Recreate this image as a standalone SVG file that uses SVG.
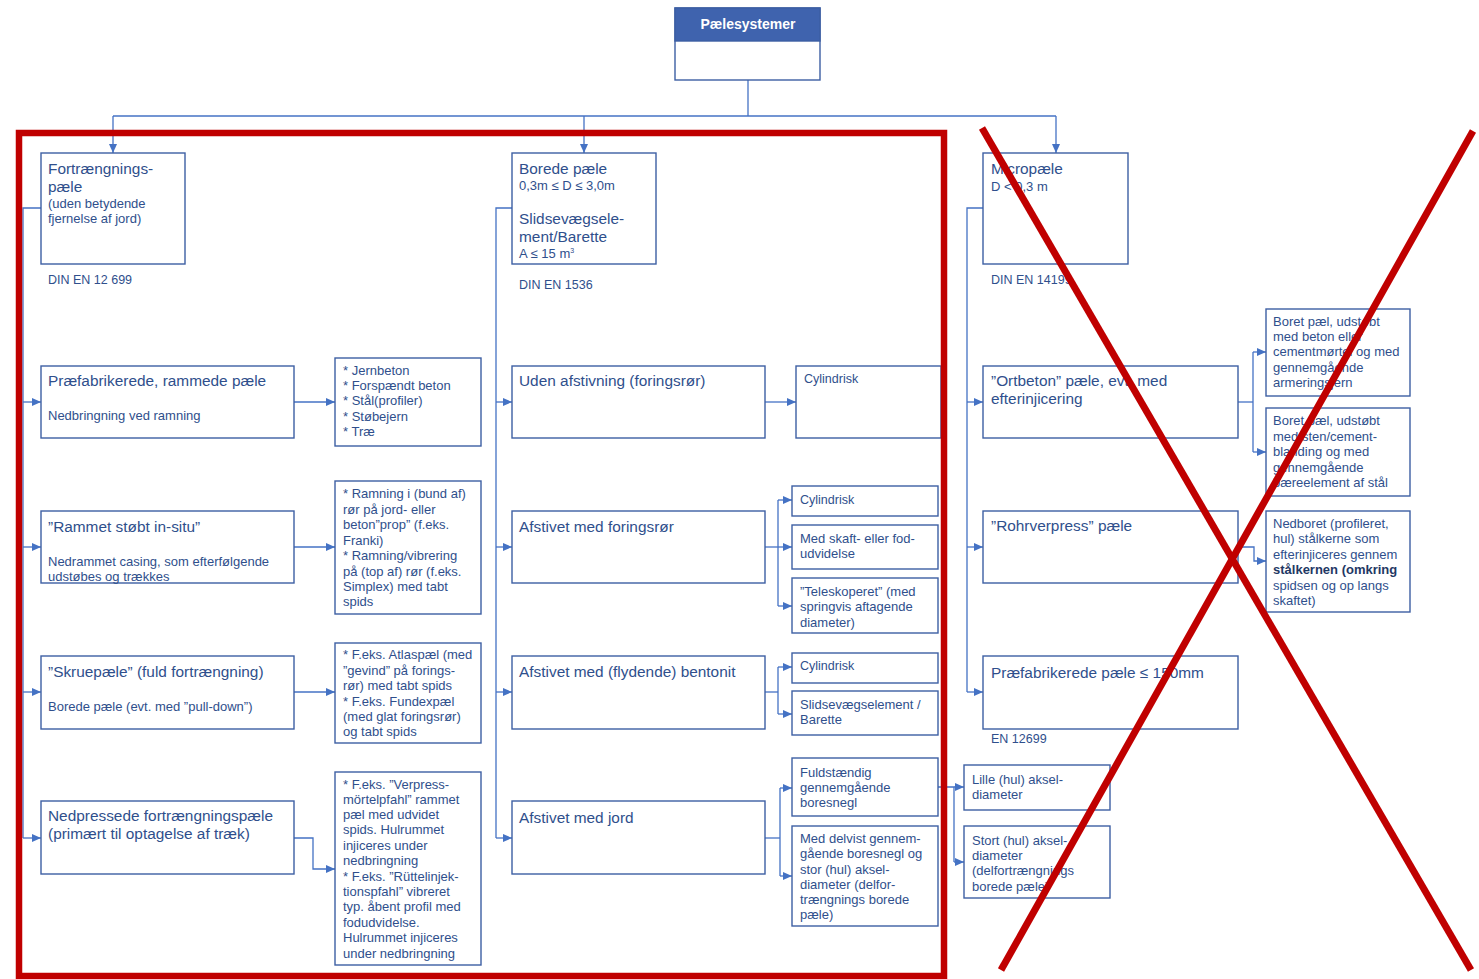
<svg xmlns="http://www.w3.org/2000/svg" width="1479" height="979" viewBox="0 0 1479 979">
<style>
text{font-family:"Liberation Sans",Arial,sans-serif;fill:#2F4F8C}
.t{font-size:15.4px}
.s{font-size:13px}
.d{font-size:12.5px}
.b{fill:#fff;stroke:#3D5FA3;stroke-width:1.4}
.c{fill:none;stroke:#4472C4;stroke-width:1.3}
.x{fill:none;stroke:#C00000;stroke-width:6.5}
</style>
<defs>
<marker id="ah" markerWidth="9" markerHeight="8" refX="9" refY="4" orient="auto" markerUnits="userSpaceOnUse"><path d="M0,0 L9,4 L0,8 z" fill="#4472C4"/></marker>
</defs>
<rect width="1479" height="979" fill="#fff"/>

<g id="connectors">
<path class="c" d="M748,80 V116"/>
<path class="c" d="M113,116 H1056"/>
<path class="c" d="M113,116 V153" marker-end="url(#ah)"/>
<path class="c" d="M584,116 V153" marker-end="url(#ah)"/>
<path class="c" d="M1056,116 V153" marker-end="url(#ah)"/>
<path class="c" d="M41,208 H23 V838"/>
<path class="c" d="M23,402 H41" marker-end="url(#ah)"/>
<path class="c" d="M23,547 H41" marker-end="url(#ah)"/>
<path class="c" d="M23,692 H41" marker-end="url(#ah)"/>
<path class="c" d="M23,838 H41" marker-end="url(#ah)"/>
<path class="c" d="M294,402 H335" marker-end="url(#ah)"/>
<path class="c" d="M294,547 H335" marker-end="url(#ah)"/>
<path class="c" d="M294,692 H335" marker-end="url(#ah)"/>
<path class="c" d="M294,838 H313 V869 H335" marker-end="url(#ah)"/>
<path class="c" d="M512,208 H496 V838"/>
<path class="c" d="M496,402 H512" marker-end="url(#ah)"/>
<path class="c" d="M496,547 H512" marker-end="url(#ah)"/>
<path class="c" d="M496,692 H512" marker-end="url(#ah)"/>
<path class="c" d="M496,838 H512" marker-end="url(#ah)"/>
<path class="c" d="M765,402 H796" marker-end="url(#ah)"/>
<path class="c" d="M765,547 H778"/>
<path class="c" d="M778,500 V606"/>
<path class="c" d="M778,500 H792" marker-end="url(#ah)"/>
<path class="c" d="M778,547 H792" marker-end="url(#ah)"/>
<path class="c" d="M778,606 H792" marker-end="url(#ah)"/>
<path class="c" d="M765,692 H778"/>
<path class="c" d="M778,667 V714"/>
<path class="c" d="M778,667 H792" marker-end="url(#ah)"/>
<path class="c" d="M778,714 H792" marker-end="url(#ah)"/>
<path class="c" d="M765,838 H780"/>
<path class="c" d="M780,788 V876"/>
<path class="c" d="M780,788 H792" marker-end="url(#ah)"/>
<path class="c" d="M780,876 H792" marker-end="url(#ah)"/>
<path class="c" d="M938,787 H954 V862"/>
<path class="c" d="M954,787 H964" marker-end="url(#ah)"/>
<path class="c" d="M954,862 H964" marker-end="url(#ah)"/>
<path class="c" d="M983,208 H967 V692"/>
<path class="c" d="M967,402 H983" marker-end="url(#ah)"/>
<path class="c" d="M967,547 H983" marker-end="url(#ah)"/>
<path class="c" d="M967,692 H983" marker-end="url(#ah)"/>
<path class="c" d="M1238,402 H1253"/>
<path class="c" d="M1253,352 V452"/>
<path class="c" d="M1253,352 H1266" marker-end="url(#ah)"/>
<path class="c" d="M1253,452 H1266" marker-end="url(#ah)"/>
<path class="c" d="M1238,547 H1254 V561 H1266" marker-end="url(#ah)"/>
</g>

<g id="n-root">
<rect class="b" x="675" y="8" width="145" height="72"/>
<rect x="675" y="8" width="145" height="33" fill="#3F63AE" stroke="#3D5FA3" stroke-width="1.4"/>
<text x="748" y="29" text-anchor="middle" style="fill:#fff;font-size:14px;font-weight:bold">Pælesystemer</text>
</g>

<g id="n-fortraengning">
<rect class="b" x="41" y="153" width="144" height="111"/>
<text class="t" x="48" y="174">Fortrængnings-</text>
<text class="t" x="48" y="192">pæle</text>
<text class="s" x="48" y="208">(uden betydende</text>
<text class="s" x="48" y="223">fjernelse af jord)</text>
<text class="d" x="48" y="284">DIN EN 12 699</text>
</g>
<g id="n-praefab">
<rect class="b" x="41" y="366" width="253" height="72"/>
<text class="t" x="48" y="386">Præfabrikerede, rammede pæle</text>
<text class="s" x="48" y="420">Nedbringning ved ramning</text>
</g>
<g id="n-praefab-list">
<rect class="b" x="335" y="358" width="146" height="88"/>
<text class="s" x="343" y="375">* Jernbeton</text>
<text class="s" x="343" y="390">* Forspændt beton</text>
<text class="s" x="343" y="405">* Stål(profiler)</text>
<text class="s" x="343" y="421">* Støbejern</text>
<text class="s" x="343" y="436">* Træ</text>
</g>
<g id="n-rammet">
<rect class="b" x="41" y="511" width="253" height="72"/>
<text class="t" x="48" y="532">”Rammet støbt in-situ”</text>
<text class="s" x="48" y="566">Nedrammet casing, som efterfølgende</text>
<text class="s" x="48" y="581">udstøbes og trækkes</text>
</g>
<g id="n-rammet-list">
<rect class="b" x="335" y="481" width="146" height="133"/>
<text class="s" x="343" y="498">* Ramning i (bund af)</text>
<text class="s" x="343" y="514">rør på jord- eller</text>
<text class="s" x="343" y="529">beton”prop” (f.eks.</text>
<text class="s" x="343" y="545">Franki)</text>
<text class="s" x="343" y="560">* Ramning/vibrering</text>
<text class="s" x="343" y="576">på (top af) rør (f.eks.</text>
<text class="s" x="343" y="591">Simplex) med tabt</text>
<text class="s" x="343" y="606">spids</text>
</g>
<g id="n-skrue">
<rect class="b" x="41" y="656" width="253" height="73"/>
<text class="t" x="48" y="677">”Skruepæle” (fuld fortrængning)</text>
<text class="s" x="48" y="711">Borede pæle (evt. med ”pull-down”)</text>
</g>
<g id="n-skrue-list">
<rect class="b" x="335" y="643" width="146" height="100"/>
<text class="s" x="343" y="659">* F.eks. Atlaspæl (med</text>
<text class="s" x="343" y="675">”gevind” på forings-</text>
<text class="s" x="343" y="690">rør) med tabt spids</text>
<text class="s" x="343" y="706">* F.eks. Fundexpæl</text>
<text class="s" x="343" y="721">(med glat foringsrør)</text>
<text class="s" x="343" y="736">og tabt spids</text>
</g>
<g id="n-nedpressede">
<rect class="b" x="41" y="801" width="253" height="73"/>
<text class="t" x="48" y="821">Nedpressede fortrængningspæle</text>
<text class="t" x="48" y="839">(primært til optagelse af træk)</text>
</g>
<g id="n-nedpressede-list">
<rect class="b" x="335" y="772" width="146" height="193"/>
<text class="s" x="343" y="789">* F.eks. ”Verpress-</text>
<text class="s" x="343" y="804">mörtelpfahl” rammet</text>
<text class="s" x="343" y="819">pæl med udvidet</text>
<text class="s" x="343" y="834">spids. Hulrummet</text>
<text class="s" x="343" y="850">injiceres under</text>
<text class="s" x="343" y="865">nedbringning</text>
<text class="s" x="343" y="881">* F.eks. ”Rüttelinjek-</text>
<text class="s" x="343" y="896">tionspfahl” vibreret</text>
<text class="s" x="343" y="911">typ. åbent profil med</text>
<text class="s" x="343" y="927">fodudvidelse.</text>
<text class="s" x="343" y="942">Hulrummet injiceres</text>
<text class="s" x="343" y="958">under nedbringning</text>
</g>

<g id="n-borede">
<rect class="b" x="512" y="153" width="144" height="111"/>
<text class="t" x="519" y="174">Borede pæle</text>
<text class="s" x="519" y="190">0,3m ≤ D ≤ 3,0m</text>
<text class="t" x="519" y="224">Slidsevægsele-</text>
<text class="t" x="519" y="242">ment/Barette</text>
<text class="s" x="519" y="258">A ≤ 15 m<tspan dy="-5" style="font-size:7px">3</tspan></text>
<text class="d" x="519" y="289">DIN EN 1536</text>
</g>
<g id="n-uden">
<rect class="b" x="512" y="366" width="253" height="72"/>
<text class="t" x="519" y="386">Uden afstivning (foringsrør)</text>
</g>
<g id="n-uden-cyl">
<rect class="b" x="796" y="366" width="145" height="72"/>
<text class="d" x="804" y="383">Cylindrisk</text>
</g>
<g id="n-foringsror">
<rect class="b" x="512" y="511" width="253" height="72"/>
<text class="t" x="519" y="532">Afstivet med foringsrør</text>
</g>
<g id="n-for-cyl">
<rect class="b" x="792" y="486" width="146" height="30"/>
<text class="d" x="800" y="504">Cylindrisk</text>
</g>
<g id="n-for-skaft">
<rect class="b" x="792" y="525" width="146" height="44"/>
<text class="s" x="800" y="543">Med skaft- eller fod-</text>
<text class="s" x="800" y="558">udvidelse</text>
</g>
<g id="n-for-tele">
<rect class="b" x="792" y="578" width="146" height="55"/>
<text class="s" x="800" y="596">”Teleskoperet” (med</text>
<text class="s" x="800" y="611">springvis aftagende</text>
<text class="s" x="800" y="627">diameter)</text>
</g>
<g id="n-bentonit">
<rect class="b" x="512" y="656" width="253" height="73"/>
<text class="t" x="519" y="677">Afstivet med (flydende) bentonit</text>
</g>
<g id="n-ben-cyl">
<rect class="b" x="792" y="653" width="146" height="30"/>
<text class="d" x="800" y="670">Cylindrisk</text>
</g>
<g id="n-ben-slids">
<rect class="b" x="792" y="691" width="146" height="44"/>
<text class="s" x="800" y="709">Slidsevægselement /</text>
<text class="s" x="800" y="724">Barette</text>
</g>
<g id="n-jord">
<rect class="b" x="512" y="801" width="253" height="73"/>
<text class="t" x="519" y="823">Afstivet med jord</text>
</g>
<g id="n-jord-fuld">
<rect class="b" x="792" y="758" width="146" height="58"/>
<text class="s" x="800" y="777">Fuldstændig</text>
<text class="s" x="800" y="792">gennemgående</text>
<text class="s" x="800" y="807">boresnegl</text>
</g>
<g id="n-jord-delvist">
<rect class="b" x="792" y="826" width="146" height="100"/>
<text class="s" x="800" y="843">Med delvist  gennem-</text>
<text class="s" x="800" y="858">gående boresnegl og</text>
<text class="s" x="800" y="874">stor (hul) aksel-</text>
<text class="s" x="800" y="889">diameter (delfor-</text>
<text class="s" x="800" y="904">trængnings borede</text>
<text class="s" x="800" y="919">pæle)</text>
</g>
<g id="n-lille">
<rect class="b" x="964" y="765" width="146" height="45"/>
<text class="s" x="972" y="784">Lille (hul) aksel-</text>
<text class="s" x="972" y="799">diameter</text>
</g>
<g id="n-stort">
<rect class="b" x="964" y="826" width="146" height="72"/>
<text class="s" x="972" y="845">Stort (hul) aksel-</text>
<text class="s" x="972" y="860">diameter</text>
<text class="s" x="972" y="875">(delfortrængnings</text>
<text class="s" x="972" y="891">borede pæle)</text>
</g>

<g id="n-micro">
<rect class="b" x="983" y="153" width="145" height="111"/>
<text class="t" x="991" y="174">Micropæle</text>
<text class="s" x="991" y="191">D &lt; 0,3 m</text>
<text class="d" x="991" y="284">DIN EN 14199</text>
</g>
<g id="n-ortbeton">
<rect class="b" x="983" y="366" width="255" height="72"/>
<text class="t" x="991" y="386">”Ortbeton” pæle, evt. med</text>
<text class="t" x="991" y="404">efterinjicering</text>
</g>
<g id="n-boret1">
<rect class="b" x="1266" y="309" width="144" height="87"/>
<text class="s" x="1273" y="326">Boret pæl, udstøbt</text>
<text class="s" x="1273" y="341">med beton eller</text>
<text class="s" x="1273" y="356">cementmørtel og med</text>
<text class="s" x="1273" y="372">gennemgående</text>
<text class="s" x="1273" y="387">armeringsjern</text>
</g>
<g id="n-boret2">
<rect class="b" x="1266" y="408" width="144" height="88"/>
<text class="s" x="1273" y="425">Boret pæl, udstøbt</text>
<text class="s" x="1273" y="441">med sten/cement-</text>
<text class="s" x="1273" y="456">blanding og med</text>
<text class="s" x="1273" y="472">gennemgående</text>
<text class="s" x="1273" y="487">bæreelement af stål</text>
</g>
<g id="n-rohr">
<rect class="b" x="983" y="511" width="255" height="72"/>
<text class="t" x="991" y="531">”Rohrverpress” pæle</text>
</g>
<g id="n-nedboret">
<rect class="b" x="1266" y="511" width="144" height="101"/>
<text class="s" x="1273" y="528">Nedboret (profileret,</text>
<text class="s" x="1273" y="543">hul) stålkerne som</text>
<text class="s" x="1273" y="559">efterinjiceres gennem</text>
<text class="s" x="1273" y="574" style="font-weight:bold;fill:#1F3864">stålkernen (omkring</text>
<text class="s" x="1273" y="590">spidsen og op langs</text>
<text class="s" x="1273" y="605">skaftet)</text>
</g>
<g id="n-praefab150">
<rect class="b" x="983" y="656" width="255" height="73"/>
<text class="t" x="991" y="678">Præfabrikerede pæle ≤ 150mm</text>
<text class="d" x="991" y="743">EN 12699</text>
</g>

<g id="annotations">
<rect class="x" x="19" y="133" width="925" height="843"/>
<line class="x" x1="982" y1="128" x2="1471" y2="970" style="stroke-width:7"/>
<line class="x" x1="1473" y1="131" x2="1001" y2="970" style="stroke-width:7"/>
</g>
</svg>
